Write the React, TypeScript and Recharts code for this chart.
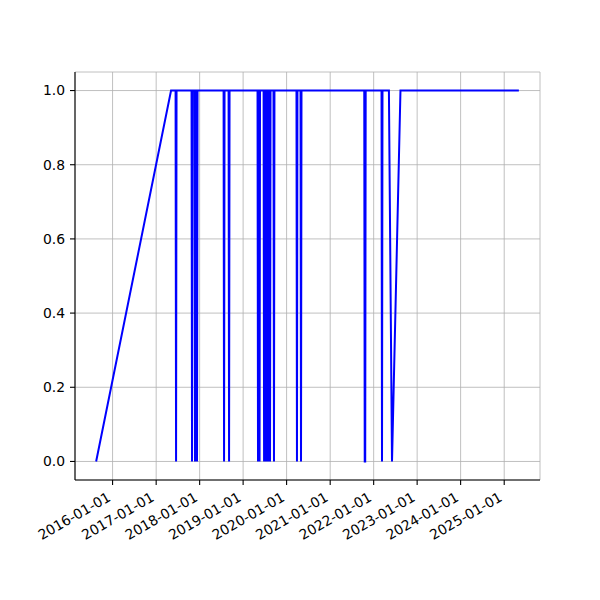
import React from 'react';
import {
  LineChart,
  Line,
  XAxis,
  YAxis,
  CartesianGrid,
} from 'recharts';

// points: date and value (1 = up, 0 = down)
const dates = [
  '2015-08-16', '2017-05-06',
  '2017-06-13', '2017-06-17', '2017-06-21',
  '2017-10-25', '2017-10-29', '2017-11-02',
  '2017-11-19', '2017-11-23', '2017-11-27',
  '2017-12-06', '2017-12-10', '2017-12-14',
  '2018-07-21', '2018-07-25', '2018-07-29',
  '2018-09-01', '2018-09-05', '2018-09-09',
  '2019-05-02', '2019-05-06', '2019-05-10',
  '2019-05-15', '2019-05-19', '2019-05-23',
  '2019-06-22', '2019-06-26', '2019-06-30',
  '2019-07-04', '2019-07-08', '2019-07-12',
  '2019-07-17', '2019-07-21', '2019-07-25',
  '2019-07-29', '2019-08-02', '2019-08-06',
  '2019-08-11', '2019-08-15', '2019-08-19',
  '2019-09-13', '2019-09-17', '2019-09-21',
  '2020-03-24', '2020-03-28', '2020-04-01',
  '2020-04-27', '2020-05-01', '2020-05-05',
  '2021-10-14', '2021-10-18', '2021-10-22', '2021-10-26',
  '2022-03-08', '2022-03-12', '2022-03-16',
  '2022-05-09', '2022-06-04', '2022-08-14',
  '2025-05-04',
];

const values = [
  0, 1,
  1, 0, 1,
  1, 0, 1,
  1, 0, 1,
  1, 0, 1,
  1, 0, 1,
  1, 0, 1,
  1, 0, 1,
  1, 0, 1,
  1, 0, 1,
  1, 0, 1,
  1, 0, 1,
  1, 0, 1,
  1, 0, 1,
  1, 0, 1,
  1, 0, 1,
  1, 0, 1,
  1, 0, 0, 1,
  1, 0, 1,
  1, 0, 1,
  1,
];

const xTickLabels = [
  '2016-01-01', '2017-01-01', '2018-01-01', '2019-01-01', '2020-01-01',
  '2021-01-01', '2022-01-01', '2023-01-01', '2024-01-01', '2025-01-01',
];

const yTicks = [0, 0.2, 0.4, 0.6, 0.8, 1.0];

const toTime = (s: string) => {
  const [y, m, d] = s.split('-').map(Number);
  return Date.UTC(y, m - 1, d);
};

const data = dates.map((d, i) => ({ t: toTime(d), v: values[i] }));
const xTicks = xTickLabels.map(toTime);

// matplotlib-style 5% padding on the x range
const tMin = Math.min(...data.map((p) => p.t));
const tMax = Math.max(...data.map((p) => p.t));
const pad = (tMax - tMin) * 0.05;

const fmtDate = (t: number) => new Date(t).toISOString().slice(0, 10);

const FONT = 'DejaVu Sans, sans-serif';

const DateTick = (props: any) => {
  const { x, y, payload } = props;
  const tx = x - 1;
  const ty = y + 15;
  return (
    <text
      x={tx}
      y={ty}
      textAnchor="end"
      fontSize={13.9}
      fontFamily={FONT}
      fill="#000"
      transform={`rotate(-30, ${tx}, ${ty})`}
    >
      {fmtDate(payload.value)}
    </text>
  );
};

const App = () => {
  return (
    <div style={{ position: 'absolute', left: 0, top: 0, width: 600, height: 600, background: '#fff' }}>
      <LineChart
        width={600}
        height={600}
        data={data}
        margin={{ top: 72, right: 60, left: 15, bottom: 40 }}
      >
        <CartesianGrid stroke="#b0b0b0" strokeWidth={0.8} />
        <XAxis
          dataKey="t"
          type="number"
          scale="linear"
          domain={[tMin - pad, tMax + pad]}
          ticks={xTicks}
          interval={0}
          height={80}
          tick={<DateTick />}
          tickSize={5}
          tickMargin={0}
          axisLine={{ stroke: '#000', strokeWidth: 1.1 }}
          tickLine={{ stroke: '#000', strokeWidth: 1.1 }}
          allowDataOverflow
        />
        <XAxis
          xAxisId="top"
          orientation="top"
          dataKey="t"
          type="number"
          domain={[tMin - pad, tMax + pad]}
          height={0}
          tick={false}
          tickLine={false}
          axisLine={{ stroke: '#000', strokeWidth: 1.1 }}
        />
        <YAxis
          type="number"
          domain={[-0.05, 1.05]}
          ticks={yTicks}
          interval={0}
          width={60}
          tickFormatter={(v: number) => v.toFixed(1)}
          tick={{ fontSize: 13.9, fontFamily: FONT, fill: '#000' }}
          tickSize={5}
          tickMargin={5}
          axisLine={{ stroke: '#000', strokeWidth: 1.1 }}
          tickLine={{ stroke: '#000', strokeWidth: 1.1 }}
          allowDataOverflow
        />
        <YAxis
          yAxisId="right"
          orientation="right"
          type="number"
          domain={[-0.05, 1.05]}
          width={0}
          tick={false}
          tickLine={false}
          axisLine={{ stroke: '#000', strokeWidth: 1.1 }}
        />
        <Line
          type="linear"
          dataKey="v"
          stroke="#0000ff"
          strokeWidth={2}
          dot={false}
          isAnimationActive={false}
        />
      </LineChart>
    </div>
  );
};

export default App;
